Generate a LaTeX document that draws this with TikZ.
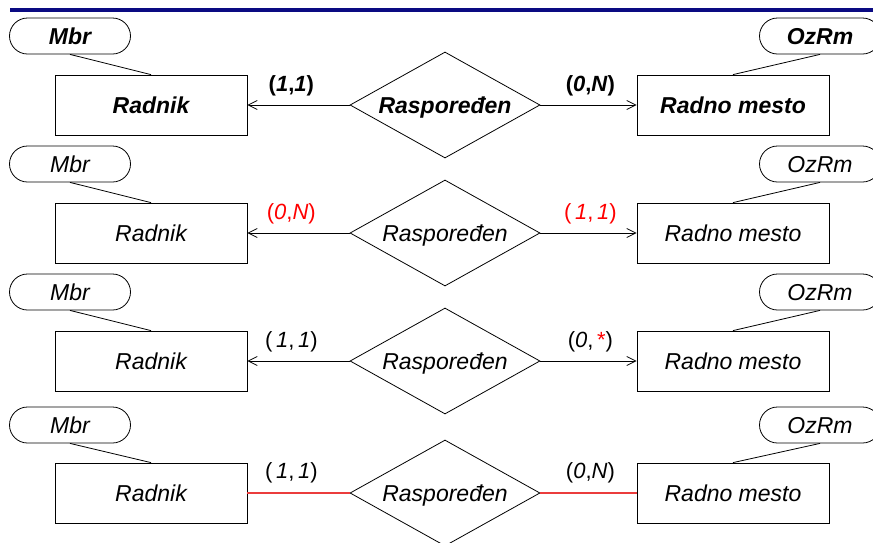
\documentclass[tikz,border=0pt]{standalone}
\usepackage{fontspec}
\setmainfont{Liberation Sans}
\usetikzlibrary{arrows.meta,shapes.geometric,shapes.misc}
\definecolor{navy}{RGB}{10,10,130}
\definecolor{linkred}{RGB}{235,60,60}

\begin{document}
\begin{tikzpicture}[
  x=1pt, y=-1pt,
  >={Straight Barb[length=9pt,width=9pt]},
  line width=0.8pt,
  every node/.style={font=\fontsize{23}{27}\selectfont\itshape},
  ent/.style={draw, line width=0.8pt, minimum width=192pt, minimum height=60pt, inner sep=0pt, text height=16.5pt, text depth=0pt},
  attr/.style={rounded rectangle, draw, line width=0.8pt, minimum width=121pt, minimum height=36pt, inner sep=0pt, text height=16.5pt, text depth=0pt},
  rel/.style={diamond, draw, line width=0.8pt, aspect=1.79, minimum width=190pt, minimum height=106pt, inner sep=0pt, text height=16.5pt, text depth=0pt},
  card/.style={font=\fontsize{22}{26}\selectfont, inner sep=2pt},
  bold/.style={font=\fontsize{23}{27}\selectfont\bfseries\itshape}
]
\clip (0,0) rectangle (873,542);
\useasboundingbox (0,0) rectangle (873,542);
\draw[navy, line width=4pt] (10,10) -- (873,10);

% row 1
\node[ent, bold] (r1) at (151,105) {Radnik};
\node[ent, bold] (rm1) at (733,105) {Radno mesto};
\node[rel, bold] (rs1) at (445,105) {Raspoređen};
\node[attr, bold] (mbr1) at (70,36) {Mbr};
\node[attr, bold] (ozrm1) at (820,36) {OzRm};
\draw (mbr1.south) -- (r1.north);
\draw (ozrm1.south) -- (rm1.north);
\draw[->] (rs1.west) -- node[card, pos=.57, above=7pt]{\bfseries(\textit{1},\textit{1})} (r1.east);
\draw[->] (rs1.east) -- node[card, pos=.52, above=7pt]{\bfseries(\textit{0},\textit{N})} (rm1.west);

% row 2
\node[ent] (r2) at (151,233) {Radnik};
\node[ent] (rm2) at (733,233) {Radno mesto};
\node[rel] (rs2) at (445,233) {Raspoređen};
\node[attr] (mbr2) at (70,164) {Mbr};
\node[attr] (ozrm2) at (820,164) {OzRm};
\draw (mbr2.south) -- (r2.north);
\draw (ozrm2.south) -- (rm2.north);
\draw[->] (rs2.west) -- node[card, red, pos=.57, above=7pt]{(\textit{0},\textit{N})} (r2.east);
\draw[->] (rs2.east) -- node[card, red, pos=.52, above=7pt]{(\,\textit{1},\,\textit{1})} (rm2.west);

% row 3
\node[ent] (r3) at (151,361) {Radnik};
\node[ent] (rm3) at (733,361) {Radno mesto};
\node[rel] (rs3) at (445,361) {Raspoređen};
\node[attr] (mbr3) at (70,292) {Mbr};
\node[attr] (ozrm3) at (820,292) {OzRm};
\draw (mbr3.south) -- (r3.north);
\draw (ozrm3.south) -- (rm3.north);
\draw[->] (rs3.west) -- node[card, pos=.57, above=7pt]{(\,\textit{1},\,\textit{1})} (r3.east);
\draw[->] (rs3.east) -- node[card, pos=.52, above=7pt]{(\textit{0},\,\textcolor{red}{*})} (rm3.west);

% row 4
\node[ent] (r4) at (151,493) {Radnik};
\node[ent] (rm4) at (733,493) {Radno mesto};
\node[rel] (rs4) at (445,493) {Raspoređen};
\node[attr] (mbr4) at (70,425) {Mbr};
\node[attr] (ozrm4) at (820,425) {OzRm};
\draw (mbr4.south) -- (r4.north);
\draw (ozrm4.south) -- (rm4.north);
\draw[linkred, line width=1.2pt] (rs4.west) -- node[card, black, pos=.57, above=7pt]{(\,\textit{1},\,\textit{1})} (r4.east);
\draw[linkred, line width=1.2pt] (rs4.east) -- node[card, black, pos=.52, above=7pt]{(\textit{0},\textit{N})} (rm4.west);
\end{tikzpicture}
\end{document}
